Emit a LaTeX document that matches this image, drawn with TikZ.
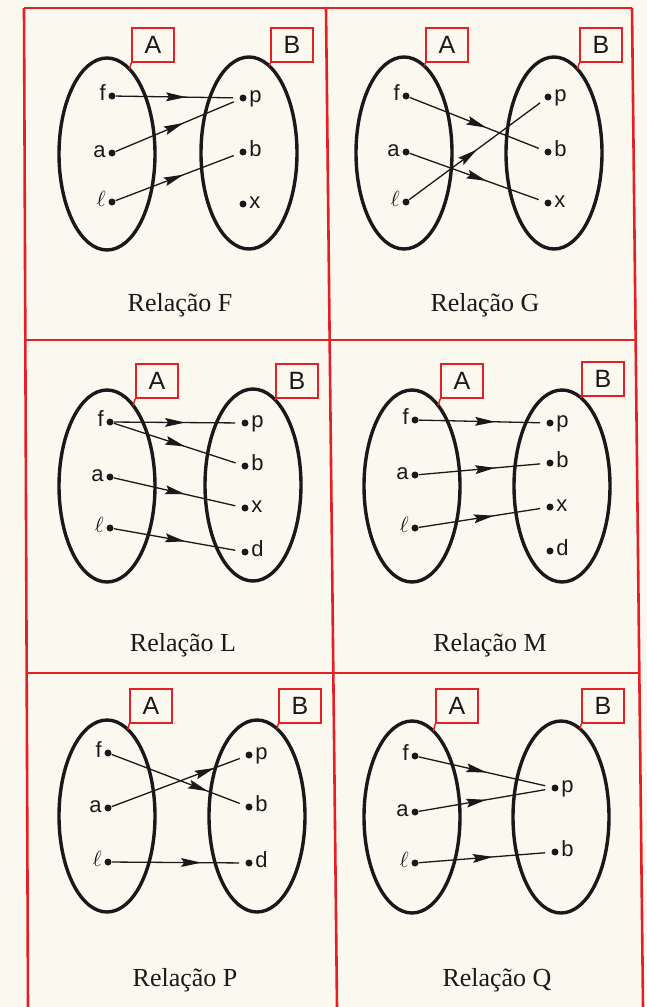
\documentclass[tikz,border=0pt]{standalone}
\usepackage{fontspec}
\setmainfont{Liberation Serif}
\newfontfamily\lettersf{Liberation Sans}
\usetikzlibrary{shapes.geometric,arrows.meta,decorations.markings}
\definecolor{FrameRed}{RGB}{228,32,38}
\definecolor{Paper}{RGB}{251,248,240}
\definecolor{Ink}{RGB}{25,25,25}

\begin{document}
\begin{tikzpicture}[x=0.5pt,y=-0.5pt,
    conj/.style={draw=Ink,ellipse,line width=1.7pt,inner sep=0pt,outer sep=0pt,
                 minimum width=48pt,minimum height=96pt},
    setbox/.style={draw=FrameRed,line width=0.75pt,minimum width=21pt,minimum height=17pt,
                   inner sep=0pt,text=Ink,font=\lettersf\fontsize{12.5}{14}\selectfont},
    pt/.style={circle,fill=Ink,inner sep=0pt,minimum size=3.5pt,label distance=1.3pt},
    every label/.append style={font=\lettersf\fontsize{11}{13}\selectfont,inner sep=1pt,
                               text height=1ex,text depth=0pt,text=Ink},
    tick/.style={draw=FrameRed,line width=0.75pt},
    frame/.style={draw=FrameRed,line width=1.3pt},
    titulo/.style={text=Ink,font=\fontsize{13}{15}\selectfont},
    ar/.style={draw=Ink,line width=0.65pt,shorten >=3pt,postaction={decorate},
               decoration={markings,mark=at position #1 with {\arrow{Stealth[length=10pt,width=4.4pt,inset=1.5pt]}}}},
    ar/.default=0.58]
  \fill[Paper] (0,0) rectangle (647,1007);
  \useasboundingbox (0,0) rectangle (647,1007);
  % grid
  \draw[frame] (24,8) -- (632,8);
  \draw[frame] (24,8) -- (28,1007);
  \draw[frame] (326,8) -- (337,1007);
  \draw[frame] (632,8) -- (643,1007);
  \draw[frame] (25.3,340) -- (635.7,340);
  \draw[frame] (26.7,673) -- (639.3,673);

  % Relacao F
  \node[conj] (FEA) at (107,154) {};
  \node[conj] (FEB) at (249,153) {};
  \node[setbox] (FA) at (153,45) {A};
  \node[setbox] (FB) at (292,45) {B};
  \draw[tick] (FA.south west) -- (FEA);
  \draw[tick] (FB.south west) -- (FEB);
  \foreach \n/\lab/\y in {f/f/96,a/a/153,l/{$\ell$}/202} \node[pt,label=left:\lab] (F\n) at (112,\y) {};
  \foreach \n/\y in {p/98,b/152,x/204} \node[pt,label=right:\n] (F\n) at (243,\y) {};
  \foreach \a/\b/\p in {f/p/.57,a/p/.55,l/b/.55} \draw[ar=\p] (F\a) -- (F\b);
  \node[titulo] (Ft) at (180,305) {Relação F};

  % Relacao G
  \node[conj] (GEA) at (404,153) {};
  \node[conj] (GEB) at (554,153) {};
  \node[setbox] (GA) at (447,45) {A};
  \node[setbox] (GB) at (601,45) {B};
  \draw[tick] (GA.south west) -- (GEA);
  \draw[tick] (GB.south west) -- (GEB);
  \foreach \n/\lab/\y in {f/f/96,a/a/152,l/{$\ell$}/202} \node[pt,label=left:\lab] (G\n) at (406,\y) {};
  \foreach \n/\y in {p/97,b/152,x/203} \node[pt,label=right:\n] (G\n) at (548,\y) {};
  \foreach \a/\b/\p in {f/b/.57,a/x/.57,l/p/.5} \draw[ar=\p] (G\a) -- (G\b);
  \node[titulo] (Gt) at (485,305) {Relação G};

  % Relacao L
  \node[conj] (LEA) at (107,486) {};
  \node[conj] (LEB) at (253,485) {};
  \node[setbox] (LA) at (157,381) {A};
  \node[setbox] (LB) at (297,381) {B};
  \draw[tick] (LA.south west) -- (LEA);
  \draw[tick] (LB.south west) -- (LEB);
  \foreach \n/\lab/\y in {f/f/422,a/a/477,l/{$\ell$}/528} \node[pt,label=left:\lab] (L\n) at (110,\y) {};
  \foreach \n/\y in {p/423,b/466,x/508,d/552} \node[pt,label=right:\n] (L\n) at (245,\y) {};
  \foreach \a/\b/\p in {f/p/.56,f/b/.56,a/x/.56,l/d/.56} \draw[ar=\p] (L\a) -- (L\b);
  \node[titulo] (Lt) at (183,645) {Relação L};

  % Relacao M
  \node[conj] (MEA) at (412,486) {};
  \node[conj] (MEB) at (562,486) {};
  \node[setbox] (MA) at (462,381) {A};
  \node[setbox] (MB) at (603,379) {B};
  \draw[tick] (MA.south west) -- (MEA);
  \draw[tick] (MB.south west) -- (MEB);
  \foreach \n/\lab/\y in {f/f/420,a/a/475,l/{$\ell$}/528} \node[pt,label=left:\lab] (M\n) at (415,\y) {};
  \foreach \n/\y in {p/423,b/463,x/507,d/551} \node[pt,label=right:\n] (M\n) at (550,\y) {};
  \foreach \a/\b/\p in {f/p/.6,a/b/.6,l/x/.59} \draw[ar=\p] (M\a) -- (M\b);
  \node[titulo] (Mt) at (490,645) {Relação M};

  % Relacao P
  \node[conj] (PEA) at (107,816) {};
  \node[conj] (PEB) at (257,816) {};
  \node[setbox] (PA) at (151,706) {A};
  \node[setbox] (PB) at (300,706) {B};
  \draw[tick] (PA.south west) -- (PEA);
  \draw[tick] (PB.south west) -- (PEB);
  \foreach \n/\lab/\y in {f/f/753,a/a/808,l/{$\ell$}/862} \node[pt,label=left:\lab] (P\n) at (108,\y) {};
  \foreach \n/\y in {p/755,b/807,d/863} \node[pt,label=right:\n] (P\n) at (249,\y) {};
  \foreach \a/\b/\p in {f/b/.72,a/p/.77,l/d/.67} \draw[ar=\p] (P\a) -- (P\b);
  \node[titulo] (Pt) at (185,980) {Relação P};

  % Relacao Q
  \node[conj] (QEA) at (412,817) {};
  \node[conj] (QEB) at (561,817) {};
  \node[setbox] (QA) at (457,706) {A};
  \node[setbox] (QB) at (603,706) {B};
  \draw[tick] (QA.south west) -- (QEA);
  \draw[tick] (QB.south west) -- (QEB);
  \foreach \n/\lab/\y in {f/f/756,a/a/812,l/{$\ell$}/863} \node[pt,label=left:\lab] (Q\n) at (415,\y) {};
  \foreach \n/\y in {p/788,b/852} \node[pt,label=right:\n] (Q\n) at (555,\y) {};
  \foreach \a/\b/\p in {f/p/.51,a/p/.51,l/b/.56} \draw[ar=\p] (Q\a) -- (Q\b);
  \node[titulo] (Qt) at (497,980) {Relação Q};
\end{tikzpicture}
\end{document}
